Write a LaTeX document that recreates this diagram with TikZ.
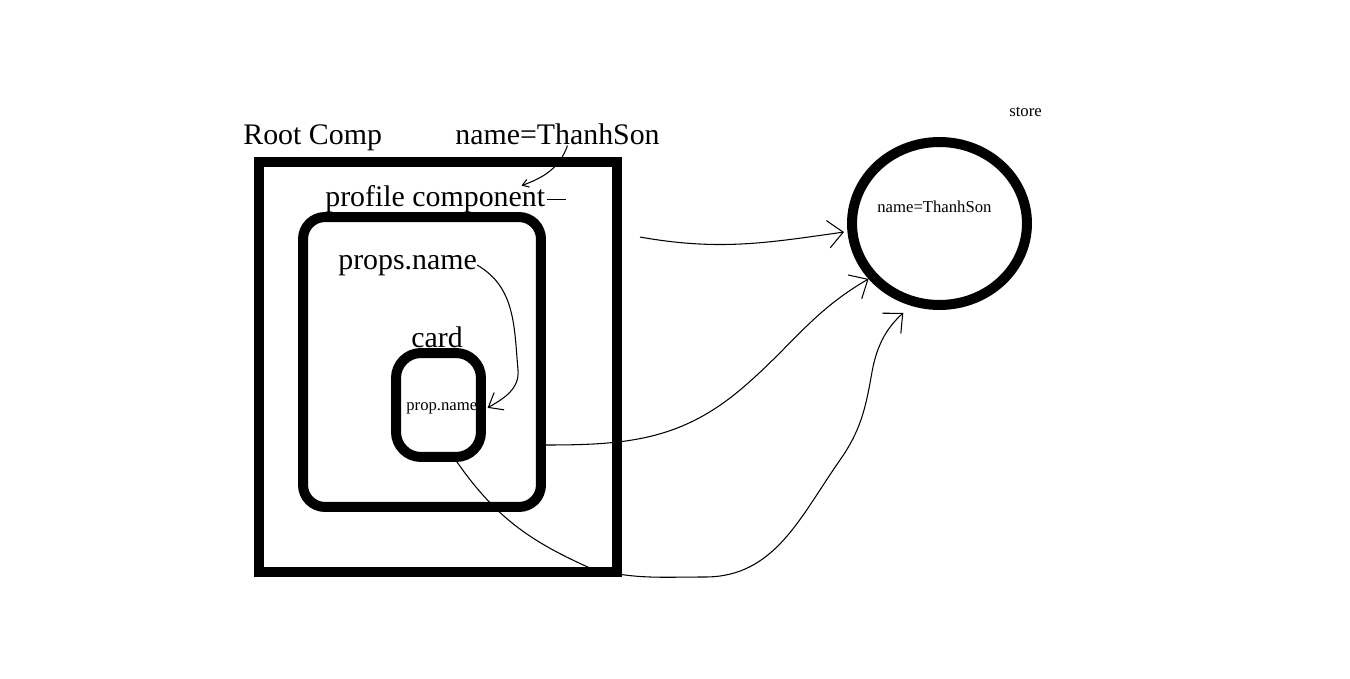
\documentclass[tikz,border=0pt]{standalone}
\usepackage{fontspec}
\setmainfont{Liberation Serif}
\usetikzlibrary{arrows.meta,shapes,positioning}

\tikzset{
    comp/.style={draw, line width=0.2cm, inner sep=0pt},
    bigtext/.style={inner sep=0pt, anchor=base west, font=\fontsize{17}{20}\selectfont},
    smalltext/.style={inner sep=0pt, anchor=base west, font=\fontsize{9.5}{11}\selectfont},
    scrawl/.style={line width=0.6pt, -{Straight Barb[length=0.3cm,width=0.55cm]}}
}

\begin{document}
\begin{tikzpicture}[x=0.02cm,y=-0.02cm]
    \useasboundingbox (0,0) rectangle (1350,679);
    \node[comp, minimum width=7.16cm, minimum height=8.2cm] (root) at (438,367) {};
    \node[comp, rounded corners=0.44cm, minimum width=4.76cm, minimum height=5.8cm] (profile) at (422,362) {};
    \node[comp, rounded corners=0.5cm, minimum width=1.7cm, minimum height=2.08cm] (card) at (438.5,405) {};
    \node[comp, ellipse, minimum width=3.5cm, minimum height=3.26cm] (store) at (939.5,223.5) {};
    \node[bigtext] (rootlabel) at (243,145) {Root Comp};
    \node[bigtext] (rootname) at (455,145) {name=ThanhSon};
    \node[bigtext] (profname) at (325,207) {profile component};
    \node[bigtext] (propsname) at (338,269) {props.name};
    \node[bigtext] (cardlabel) at (411,347) {card};
    \node[smalltext] (cardtext) at (406,410) {prop.name};
    \node[smalltext] (storetext) at (877,213) {name=ThanhSon};
    \node[smalltext] (storelabel) at (1009,117) {store};
    \draw[scrawl, -{Straight Barb[length=0.12cm,width=0.16cm]}] ([xshift=0.2cm]rootname.south) to[out=-110,in=20] ([xshift=-0.48cm]profname.north east);
    \draw[line width=0.6pt] ([xshift=1pt]profname.east) -- ++(19,0);
    \draw[scrawl, -{Straight Barb[length=0.25cm,width=0.4cm]}] (propsname.east) to[out=-30,in=95] (518,370) to[out=-85,in=30] ([xshift=0.2cm]cardtext.east);
    \draw[scrawl, shorten >=2pt] ([shift={(18,80)}]root.north east) to[out=-10,in=188] (store.185);
    \draw[scrawl] ([shift={(0,83)}]profile.east) to[out=0,in=-140] (740,390) to[out=40,in=-150] (store.218);
    \draw[scrawl, shorten >=6pt] ([xshift=0.37cm]card.south) to[out=-55,in=156] (590,568) to[out=-15,in=180] (705,577)
        to[out=0,in=-125] (840,460) to[out=55,in=-100] (872,372) to[out=80,in=-138] (store.251);
\end{tikzpicture}
\end{document}
